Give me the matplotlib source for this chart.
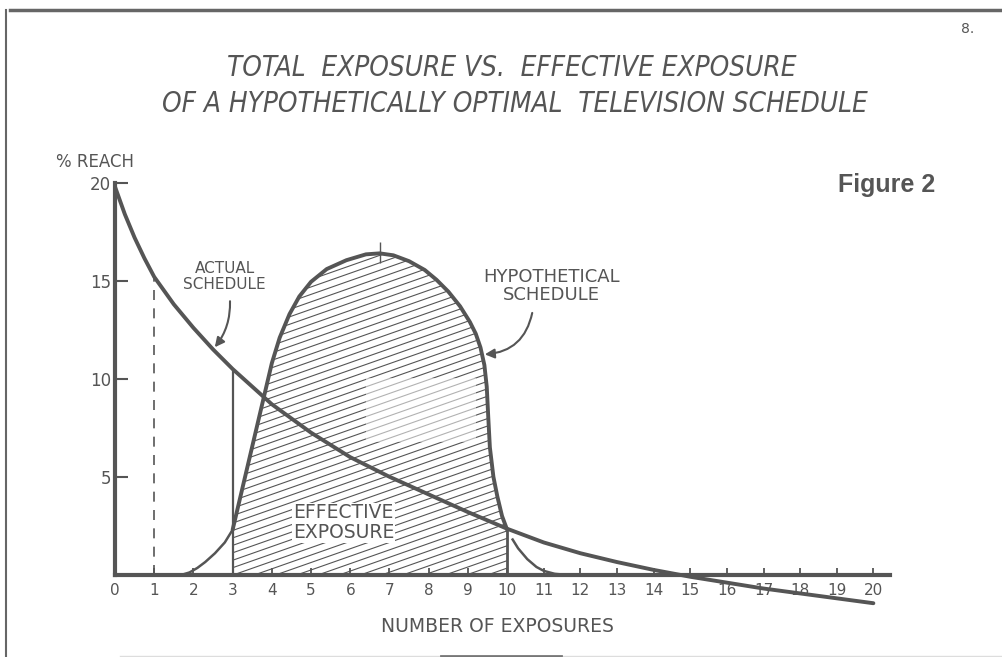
import numpy as np
import matplotlib
matplotlib.use("Agg")
import matplotlib.pyplot as plt
from matplotlib.lines import Line2D

# values (x = number of exposures, y = % reach)
actual_x = [0, 0.25, 0.5, 0.75, 1, 1.5, 2, 2.5, 3, 4, 5, 6, 7, 8, 9, 10,
            11, 12, 13, 14, 15, 16, 17, 18, 19, 20]
actual_y = [19.8, 18.4, 17.2, 16.15, 15.2, 13.8, 12.6, 11.5, 10.5, 8.7, 7.25, 6.0, 5.0,
            4.1, 3.2, 2.35, 1.65, 1.1, 0.65, 0.25, -0.1, -0.4, -0.7, -0.95, -1.2, -1.45]

hyp_left_x = [1.7, 1.9, 2.1, 2.3, 2.55, 2.8, 3.0]
hyp_left_y = [0.0, 0.12, 0.35, 0.65, 1.1, 1.65, 2.3]
hyp_x = [3.0, 3.4, 3.8, 4.0, 4.2, 4.45, 4.7, 5.0, 5.4, 5.9, 6.4, 6.75, 7.1, 7.5, 7.9,
         8.2, 8.5, 8.8, 9.05, 9.2, 9.32, 9.42, 9.48, 9.52, 9.56, 9.65, 9.75, 9.87, 10.0]
hyp_y = [2.3, 5.7, 9.1, 10.8, 12.1, 13.3, 14.2, 14.95, 15.6, 16.05, 16.35, 16.4, 16.3,
         16.0, 15.55, 15.05, 14.45, 13.7, 12.9, 12.3, 11.6, 10.7, 9.6, 8.0, 6.5, 5.0,
         4.0, 3.0, 2.3]
hyp_right_x = [10.15, 10.3, 10.55, 10.8, 11.0, 11.3, 11.6]
hyp_right_y = [1.8, 1.35, 0.8, 0.4, 0.2, 0.05, 0.0]

x_ticks = list(range(0, 21))
y_ticks = [5, 10, 15, 20]

INK = "#555555"

# the hand drawn axis is a bit tighter past 10
def fwd(x):
    x = np.asarray(x, dtype=float)
    return np.where(x <= 10, x, 10 + (x - 10) * 0.934)

def inv(x):
    x = np.asarray(x, dtype=float)
    return np.where(x <= 10, x, 10 + (x - 10) / 0.934)

fig = plt.figure(figsize=(10.03, 6.57), dpi=100)
ax = fig.add_axes([115 / 1003, 43 / 657, 795 / 1003, 441 / 657])
ax.set_xscale("function", functions=(fwd, inv))
ax.set_xlim(0, 21)
ax.set_ylim(-2, 20.5)

# spines
for s in ["top", "right"]:
    ax.spines[s].set_visible(False)
ax.spines["left"].set_bounds(0, 20)
ax.spines["bottom"].set_position(("data", 0))
ax.spines["bottom"].set_bounds(0, 20.45)
for s in ["left", "bottom"]:
    ax.spines[s].set_linewidth(3)
    ax.spines[s].set_color(INK)

ax.set_xticks(x_ticks)
ax.set_xticklabels([str(t) for t in x_ticks])
ax.set_yticks(y_ticks)
ax.set_yticklabels([str(t) for t in y_ticks])
ax.tick_params(axis="x", direction="in", length=5, width=1.3, color=INK,
               labelsize=11, labelcolor=INK, pad=6)
ax.tick_params(axis="y", direction="in", length=9, width=1.5, color=INK,
               labelsize=12, labelcolor=INK, pad=3)
ax.minorticks_off()

# hatched effective exposure area
poly = ax.fill_between(hyp_x, 0, hyp_y, facecolor="none", edgecolor="none")
clip = poly.get_paths()[0]
hx = np.linspace(2.5, 10.5, 2)
for c in np.arange(-8, 18, 0.38):
    ln, = ax.plot(hx, 0.70 * (hx - 3) + c, color=INK, lw=0.8, zorder=2)
    ln.set_clip_path(clip, ax.transData)

# faded patch in the scan
ax.add_patch(plt.Rectangle((6.4, 6.8), 2.8, 3.25, facecolor="white", alpha=0.55,
                           edgecolor="none", zorder=2.5))

# curves
ax.plot(actual_x, actual_y, color=INK, lw=2.8, zorder=4, solid_capstyle="round",
        solid_joinstyle="round")
ax.plot(hyp_x, hyp_y, color=INK, lw=2.8, zorder=4, solid_capstyle="round",
        solid_joinstyle="round")
ax.plot(hyp_left_x, hyp_left_y, color=INK, lw=1.8, zorder=4, solid_joinstyle="round")
ax.plot(hyp_right_x, hyp_right_y, color=INK, lw=1.8, zorder=4, solid_joinstyle="round")
ax.vlines(hyp_x[-1], 0, hyp_y[-1], color=INK, lw=2.0, zorder=4)
ax.vlines(actual_x[8], 0, actual_y[8], color=INK, lw=1.6, zorder=4)
ax.vlines(actual_x[4], 0, actual_y[4], color=INK, lw=1.2, linestyles=(0, (6, 5)), zorder=4)
pk = int(np.argmax(hyp_y))
ax.vlines(hyp_x[pk], hyp_y[pk] - 0.5, hyp_y[pk] + 0.6, color=INK, lw=1.0, zorder=4)

# labels
ax.text(5.83, 2.65, "EFFECTIVE\nEXPOSURE", ha="center", va="center", fontsize=13.5,
        color=INK, linespacing=1.05, zorder=5,
        bbox=dict(facecolor="white", edgecolor="none", pad=0.5))
ax.text(2.8, 15.2, "ACTUAL\nSCHEDULE", ha="center", va="center", fontsize=11,
        color=INK, linespacing=1.1)
ax.text(11.2, 14.75, "HYPOTHETICAL\nSCHEDULE", ha="center", va="center", fontsize=13,
        color=INK, linespacing=1.0)

ax.annotate("", xy=(2.5, np.interp(2.5, actual_x, actual_y)), xytext=(2.93, 14.1),
            arrowprops=dict(arrowstyle="-|>", color=INK, lw=1.5,
                            connectionstyle="arc3,rad=-0.2", mutation_scale=14))
ax.annotate("", xy=(9.36, np.interp(9.36, hyp_x, hyp_y)), xytext=(10.7, 13.5),
            arrowprops=dict(arrowstyle="-|>", color=INK, lw=1.5,
                            connectionstyle="arc3,rad=-0.4", mutation_scale=14))

fig.text(95 / 1003, 1 - 162 / 657, "% REACH", ha="center", va="center",
         fontsize=12, color=INK)
fig.text(497 / 1003, 1 - 627 / 657, "NUMBER OF EXPOSURES", ha="center", va="center",
         fontsize=13.5, color=INK)

title_kw = dict(ha="center", va="center", fontsize=20, style="italic", color=INK,
                fontstretch="condensed", family=["DejaVu Sans"])
fig.text(512 / 1003, 1 - 68 / 657, "TOTAL  EXPOSURE VS.  EFFECTIVE EXPOSURE", **title_kw)
fig.text(515 / 1003, 1 - 104 / 657, "OF A HYPOTHETICALLY OPTIMAL  TELEVISION SCHEDULE",
         **title_kw)

fig.text(935 / 1003, 1 - 185 / 657, "Figure 2", ha="right", va="center", fontsize=18,
         fontweight="bold", color=INK, family=["Liberation Sans", "DejaVu Sans"])
fig.text(968 / 1003, 1 - 29 / 657, "8.", ha="center", va="center", fontsize=10, color=INK)

# page edges from the scan
fig.add_artist(Line2D([0.01, 1.0], [1 - 10 / 657] * 2, transform=fig.transFigure,
                      color="#666666", lw=2.5))
fig.add_artist(Line2D([6 / 1003] * 2, [0, 1 - 10 / 657], transform=fig.transFigure,
                      color="#666666", lw=1.5))
fig.add_artist(Line2D([120 / 1003, 1.0], [1 / 657] * 2, transform=fig.transFigure,
                      color="#dddddd", lw=1.0))
fig.add_artist(Line2D([441 / 1003, 561 / 1003], [1.5 / 657] * 2, transform=fig.transFigure,
                      color="#777777", lw=2.0))

fig.savefig("out.png", dpi=100)
